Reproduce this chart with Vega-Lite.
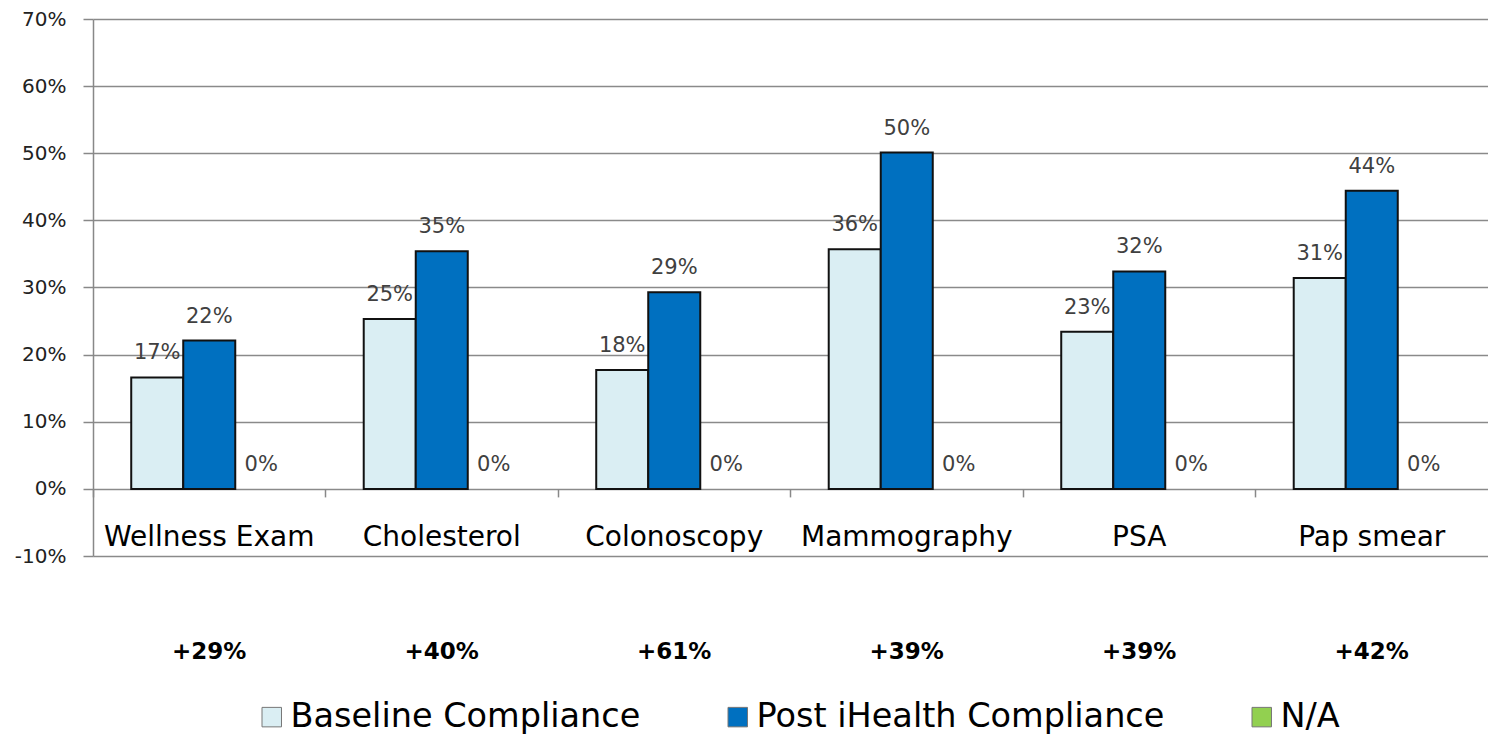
{
  "$schema": "https://vega.github.io/schema/vega-lite/v6.json",
  "width": 1395,
  "height": 537,
  "autosize": {"type": "none"},
  "padding": {"left": 93, "top": 19, "right": 0, "bottom": 178},
  "background": "white",
  "config": {"font": "DejaVu Sans", "view": {"stroke": null}},
  "datasets": {
    "bars": [
      {"test": "Wellness Exam", "series": "Baseline Compliance", "value": 0.166},
      {"test": "Wellness Exam", "series": "Post iHealth Compliance", "value": 0.221},
      {"test": "Wellness Exam", "series": "N/A", "value": 0},
      {"test": "Cholesterol", "series": "Baseline Compliance", "value": 0.253},
      {"test": "Cholesterol", "series": "Post iHealth Compliance", "value": 0.354},
      {"test": "Cholesterol", "series": "N/A", "value": 0},
      {"test": "Colonoscopy", "series": "Baseline Compliance", "value": 0.177},
      {"test": "Colonoscopy", "series": "Post iHealth Compliance", "value": 0.293},
      {"test": "Colonoscopy", "series": "N/A", "value": 0},
      {"test": "Mammography", "series": "Baseline Compliance", "value": 0.357},
      {"test": "Mammography", "series": "Post iHealth Compliance", "value": 0.501},
      {"test": "Mammography", "series": "N/A", "value": 0},
      {"test": "PSA", "series": "Baseline Compliance", "value": 0.234},
      {"test": "PSA", "series": "Post iHealth Compliance", "value": 0.324},
      {"test": "PSA", "series": "N/A", "value": 0},
      {"test": "Pap smear", "series": "Baseline Compliance", "value": 0.314},
      {"test": "Pap smear", "series": "Post iHealth Compliance", "value": 0.444},
      {"test": "Pap smear", "series": "N/A", "value": 0}
    ],
    "gains": [
      {"test": "Wellness Exam", "gain": "+29%"},
      {"test": "Cholesterol", "gain": "+40%"},
      {"test": "Colonoscopy", "gain": "+61%"},
      {"test": "Mammography", "gain": "+39%"},
      {"test": "PSA", "gain": "+39%"},
      {"test": "Pap smear", "gain": "+42%"}
    ]
  },
  "layer": [
    {
      "data": {"name": "bars"},
      "mark": {"type": "bar", "strokeWidth": 2},
      "encoding": {
        "x": {
          "field": "test", "type": "nominal", "sort": null,
          "scale": {"paddingInner": 0, "paddingOuter": 0},
          "axis": {"orient": "bottom", "title": null, "ticks": false, "domain": false, "labelFontSize": 28, "labelPadding": 35, "offset": -67.1, "labelColor": "black", "labelAngle": 0, "labelLimit": 0}
        },
        "xOffset": {
          "field": "series",
          "scale": {"domain": ["Baseline Compliance", "Post iHealth Compliance", "N/A"], "paddingInner": 0, "paddingOuter": 0.735}
        },
        "y": {
          "field": "value", "type": "quantitative",
          "scale": {"domain": [-0.1, 0.7], "nice": false, "zero": false},
          "axis": {
            "title": null, "values": [-0.1, 0, 0.1, 0.2, 0.3, 0.4, 0.5, 0.6, 0.7], "format": ".0%",
            "labelExpr": "replace(datum.label, '−', '-')",
            "labelFontSize": 20, "labelColor": "#222", "tickSize": 10, "tickColor": "#888", "tickWidth": 1.5,
            "labelPadding": 17, "gridColor": "#8a8a8a", "gridWidth": 1.5, "domainColor": "#888", "domainWidth": 1.5
          }
        },
        "color": {
          "field": "series", "type": "nominal",
          "scale": {"domain": ["Baseline Compliance", "Post iHealth Compliance", "N/A"], "range": ["#DAEEF3", "#0070C0", "#92D050"]},
          "legend": {
            "title": null, "orient": "none", "legendX": 162, "legendY": 681, "direction": "horizontal",
            "labelFontSize": 33.5, "labelColor": "black", "labelLimit": 0, "symbolSize": 380, "symbolType": "square",
            "columnPadding": 80, "labelOffset": 2, "symbolStrokeColor": "#777", "symbolStrokeWidth": 1
          }
        },
        "stroke": {"condition": {"test": "datum.value === 0", "value": "transparent"}, "value": "#111"}
      }
    },
    {
      "data": {"name": "bars"},
      "mark": {"type": "text", "baseline": "alphabetic", "dy": -18, "fontSize": 21, "color": "#404040"},
      "encoding": {
        "x": {"field": "test", "type": "nominal", "sort": null, "axis": null},
        "xOffset": {"field": "series"},
        "y": {"field": "value", "type": "quantitative"},
        "text": {"field": "value", "type": "quantitative", "format": ".0%"}
      }
    },
    {
      "data": {"name": "gains"},
      "mark": {"type": "text", "fontSize": 23, "fontWeight": "bold", "color": "black", "baseline": "middle"},
      "encoding": {
        "x": {
          "field": "test", "type": "nominal", "sort": null,
          "axis": {"orient": "bottom", "title": null, "labels": false, "domain": false, "grid": false, "ticks": true, "bandPosition": 0, "tickSize": 8, "tickColor": "#888", "tickWidth": 1.5, "offset": -67.1}
        },
        "y": {"datum": -0.243},
        "text": {"field": "gain"}
      }
    }
  ],
  "resolve": {"axis": {"x": "independent"}}
}
